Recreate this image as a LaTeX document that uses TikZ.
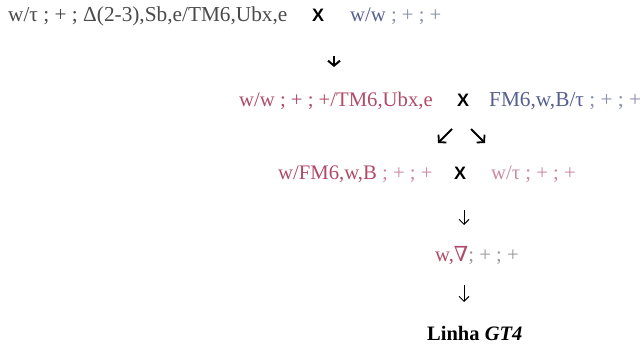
\documentclass[tikz,border=0pt]{standalone}
\usepackage{fontspec}
\setmainfont{Liberation Serif}
\newfontfamily\xsans{Liberation Sans}
\newfontfamily\dvs{DejaVu Serif}
\usetikzlibrary{arrows.meta}
\definecolor{dk}{HTML}{4A4A4A}
\definecolor{bl}{HTML}{56608F}
\definecolor{blL}{HTML}{8A90B0}
\definecolor{pk}{HTML}{B04A68}
\definecolor{pkL}{HTML}{C98AA0}
\definecolor{gr}{HTML}{9A9A9A}
\tikzset{
  txt/.style={inner sep=0pt, anchor=base west, font=\fontsize{20.7}{24}\selectfont},
  cross/.style={inner sep=0pt, anchor=base, font=\xsans\bfseries\fontsize{18}{20}\selectfont},
  arr/.style={line width=2pt, -{Straight Barb[length=5pt,width=12pt]}},
  darr/.style={line width=1.8pt, -{Straight Barb[length=5pt,width=11pt]}},
  tarr/.style={line width=1pt, -{Straight Barb[length=5pt,width=10pt]}}
}
\begin{document}
\begin{tikzpicture}[x=1pt,y=1pt]
\useasboundingbox (0,0) rectangle (642,346);
% line 1
\node[txt, text=dk, font=\fontsize{21.3}{24}\selectfont] (a1) at (8,324.5) {w/τ ; + ; Δ(2-3),Sb,e/TM6,Ubx,e};
\node[cross] (x1) at (318,324.5) {X};
\node[txt] (b1) at (350,324.5) {\textcolor{bl}{w/w} \textcolor{blL}{; + ; +}};
\coordinate (p1) at (334,290);
\coordinate (q1) at (334,279);
\draw[arr] (p1) -- (q1);
% line 2
\node[txt, text=pk] (a2) at (239,240) {w/w ; + ; +/TM6,Ubx,e};
\node[cross] (x2) at (463,240) {X};
\node[txt, font=\fontsize{21.3}{24}\selectfont] (b2) at (489,240) {\textcolor{bl}{FM6,w,B/τ} \textcolor{blL}{; + ; +}};
\coordinate (p2) at (452,217);
\coordinate (q2) at (438,203);
\draw[darr] (p2) -- (q2);
\coordinate (p3) at (471,217);
\coordinate (q3) at (485,203);
\draw[darr] (p3) -- (q3);
% line 3
\node[txt] (a3) at (278,167) {\textcolor{pk}{w/FM6,w,B} \textcolor{pkL}{; + ; +}};
\node[cross] (x3) at (460,167) {X};
\node[txt, text=pkL] (b3) at (491,167) {w/τ ; + ; +};
\coordinate (p4) at (464,136);
\coordinate (q4) at (464,121);
\draw[tarr] (p4) -- (q4);
% line 4
\node[txt] (c4) at (435,85) {\textcolor{pk}{w,{\dvs ∇}}\textcolor{gr}{; + ; +}};
\coordinate (p5) at (464,61);
\coordinate (q5) at (464,44);
\draw[tarr] (p5) -- (q5);
% line 5
\node[txt, font=\bfseries\fontsize{20.5}{24}\selectfont] (d5) at (427,6) {Linha \textit{GT4}};
\end{tikzpicture}
\end{document}
